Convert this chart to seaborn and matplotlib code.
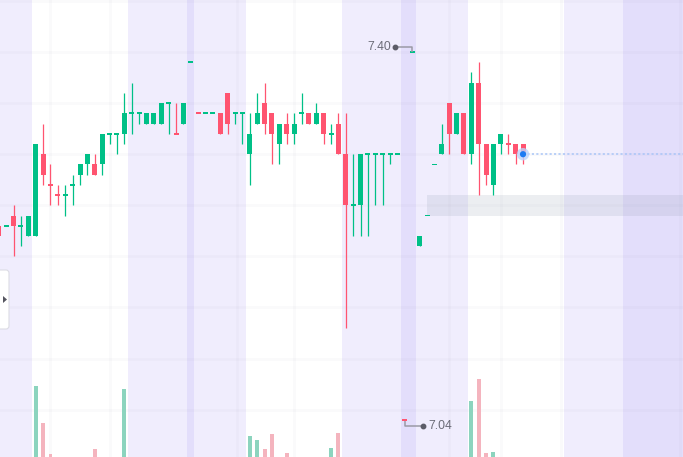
import matplotlib
matplotlib.use("Agg")
import numpy as np
import pandas as pd
import matplotlib.pyplot as plt
import seaborn as sns
from matplotlib.patches import FancyBboxPatch, Polygon
from matplotlib.transforms import IdentityTransform

# One-minute bars (price in yuan)
opens = [7.23, 7.23, 7.24, 7.23, 7.22, 7.22, 7.30, 7.27, 7.26, 7.26,
         7.27, 7.28, 7.29, 7.29, 7.29, 7.32, 7.32, 7.32, 7.34, 7.34,
         7.33, 7.33, 7.33, 7.35, 7.32, 7.33, 7.39, 7.34, 7.34, 7.34,
         7.34, 7.36, 7.34, 7.34, 7.30, 7.33, 7.35, 7.34, 7.31, 7.33,
         7.32, 7.34, 7.34, 7.33, 7.34, 7.32, 7.33, 7.30, 7.25, 7.25,
         7.30, 7.30, 7.30, 7.30, 7.30, 7.04, 7.40, 7.21, 7.24, 7.29,
         7.30, 7.35, 7.32, 7.34, 7.30, 7.37, 7.31, 7.27, 7.31, 7.31,
         7.31, 7.31]
highs = [7.23, 7.23, 7.25, 7.24, 7.24, 7.31, 7.33, 7.29, 7.27, 7.27,
         7.28, 7.29, 7.30, 7.30, 7.32, 7.32, 7.32, 7.36, 7.37, 7.34,
         7.34, 7.34, 7.35, 7.35, 7.35, 7.35, 7.39, 7.34, 7.34, 7.34,
         7.34, 7.36, 7.34, 7.34, 7.34, 7.36, 7.37, 7.34, 7.33, 7.34,
         7.34, 7.36, 7.34, 7.35, 7.34, 7.33, 7.34, 7.34, 7.30, 7.30,
         7.30, 7.30, 7.30, 7.30, 7.30, 7.04, 7.40, 7.22, 7.24, 7.29,
         7.33, 7.35, 7.34, 7.34, 7.38, 7.39, 7.31, 7.31, 7.32, 7.32,
         7.31, 7.31]
lows = [7.22, 7.23, 7.20, 7.21, 7.22, 7.22, 7.27, 7.25, 7.25, 7.24,
        7.25, 7.27, 7.28, 7.28, 7.28, 7.31, 7.30, 7.31, 7.32, 7.33,
        7.33, 7.33, 7.33, 7.32, 7.32, 7.33, 7.39, 7.34, 7.34, 7.34,
        7.32, 7.32, 7.33, 7.31, 7.27, 7.33, 7.32, 7.29, 7.29, 7.31,
        7.31, 7.33, 7.33, 7.33, 7.31, 7.31, 7.30, 7.13, 7.22, 7.22,
        7.22, 7.25, 7.25, 7.29, 7.30, 7.04, 7.40, 7.21, 7.24, 7.29,
        7.30, 7.30, 7.32, 7.30, 7.29, 7.26, 7.27, 7.26, 7.30, 7.30,
        7.29, 7.29]
closes = [7.22, 7.23, 7.23, 7.23, 7.24, 7.31, 7.28, 7.27, 7.26, 7.26,
          7.27, 7.29, 7.30, 7.28, 7.32, 7.32, 7.32, 7.34, 7.34, 7.34,
          7.34, 7.34, 7.35, 7.35, 7.32, 7.35, 7.39, 7.34, 7.34, 7.34,
          7.32, 7.33, 7.34, 7.34, 7.32, 7.34, 7.33, 7.32, 7.33, 7.32,
          7.33, 7.34, 7.33, 7.34, 7.32, 7.32, 7.30, 7.25, 7.25, 7.30,
          7.30, 7.30, 7.30, 7.30, 7.30, 7.04, 7.40, 7.22, 7.24, 7.29,
          7.31, 7.32, 7.34, 7.30, 7.37, 7.31, 7.28, 7.31, 7.32, 7.31,
          7.30, 7.30]
volumes = [60, 40, 90, 50, 70, 840, 470, 160, 80, 60,
           50, 70, 90, 210, 110, 40, 50, 810, 120, 60,
           50, 40, 70, 30, 50, 60, 20, 30, 20, 20,
           80, 100, 40, 60, 340, 300, 210, 360, 90, 170,
           100, 60, 50, 70, 90, 220, 370, 120, 80, 110,
           60, 50, 40, 30, 20, 10, 10, 40, 30, 60,
           90, 110, 80, 100, 690, 910, 170, 180, 70, 50,
           60, 40]

high_label = "7.40"
low_label = "7.04"

UP, DOWN = "#00c087", "#ff5470"
UP_VOL, DOWN_VOL = "#80e0c3", "#ffa9b7"
BAND, BAND_DARK = "#f0edfd", "#e3defb"

n = len(closes)
idx = np.arange(n)
o, h, l, c = map(np.asarray, (opens, highs, lows, closes))

# direction: body colour, flat bars follow the previous close
prev = np.r_[c[0], c[:-1]]
up = np.where(c > o, True, np.where(c < o, False, c >= prev))
df = pd.DataFrame({"i": idx, "vol": volumes,
                   "dir": np.where(up, "up", "down")})

sns.set_theme(style="white")
plt.rcParams["font.family"] = ["Liberation Sans", "DejaVu Sans"]

W, H = 683, 457
fig = plt.figure(figsize=(W / 100, H / 100), dpi=100)
ax = fig.add_axes([0, 0, 1, 1])
XMIN, XMAX = 0.16, 0.16 + W / 7.383
YMIN, YMAX = 7.0037, 7.4509
ax.set_xlim(XMIN, XMAX)
ax.set_ylim(YMIN, YMAX)
ax.axis("off")

# session shading
for a, b, col in [(XMIN, 4.5, BAND), (17.5, 33.5, BAND), (25.5, 26.5, BAND_DARK),
                  (46.5, 63.5, BAND), (54.5, 56.5, BAND_DARK),
                  (76.5, XMAX, BAND), (84.5, XMAX, BAND_DARK)]:
    ax.axvspan(a, b, color=col, lw=0, zorder=0)

# faint grid
grid_col = (0.45, 0.45, 0.6, 0.035)
for p in np.arange(7.05, 7.451, 0.05):
    ax.axhline(p, color=grid_col, lw=2.0, zorder=0.5)
for gx in [7, 15, 32.2, 40, 61, 68, 76.2, 92.2]:
    ax.axvline(gx, color=grid_col, lw=2.0, zorder=0.5)

# highlighted price range
ax.fill_between([58, XMAX], 7.24, 7.26, color=(0.55, 0.6, 0.68), alpha=0.16,
                lw=0, zorder=1)

# candles
cols = np.where(up, UP, DOWN)
ax.vlines(idx, l, h, colors=cols, lw=0.9, zorder=3)
body_lo = np.minimum(o, c)
body_h = np.abs(c - o)
flat = body_h < 1e-9
body_lo = np.where(flat, c - 0.0009, body_lo)
body_h = np.where(flat, 0.0018, body_h)
ax.bar(idx, body_h, bottom=body_lo, width=0.68, color=cols, lw=0, zorder=3.1)

# volume pane (base sits just below the lower edge)
vax = ax.twinx()
sns.barplot(data=df, x="i", y="vol", hue="dir", native_scale=True,
            palette={"up": UP_VOL, "down": DOWN_VOL}, width=0.54,
            errorbar=None, legend=False, linewidth=0, ax=vax)
vax.set_ylim(130, 4700)
vax.set_xlim(XMIN, XMAX)
vax.axis("off")

# last price line and marker
last_i, last_p = idx[-1], c[-1]
ax.plot([last_i, XMAX], [last_p, last_p], color="#a9c5f7", lw=1.1,
        ls=(0, (1.4, 1.5)), zorder=4)
pt = pd.DataFrame({"i": [last_i], "p": [last_p]})
sns.scatterplot(data=pt, x="i", y="p", s=80, color="#bcd4fb", alpha=0.8,
                edgecolor="none", ax=ax, zorder=5)
sns.scatterplot(data=pt, x="i", y="p", s=20, color="#1d7bf2",
                edgecolor="none", ax=ax, zorder=6)
ax.set_xlim(XMIN, XMAX)
ax.set_ylim(YMIN, YMAX)


def shift(x, y, dx, dy):
    d = ax.transData.transform((x, y))
    return ax.transData.inverted().transform((d[0] + dx, d[1] + dy))


line_kw = dict(color="#9a9aa6", lw=1.1, zorder=6, solid_capstyle="butt")
txt_kw = dict(color="#6c6c78", fontsize=8.7, va="center", zorder=7)

# session high
hi_i = int(np.argmax(h))
p0 = (hi_i, h[hi_i])
corner = shift(*p0, 0, 5.5)
dot = shift(*p0, -17.5, 5.5)
ax.plot([dot[0], corner[0], p0[0]], [dot[1], corner[1], p0[1]], **line_kw)
ax.plot(*dot, "o", ms=3.2, color="#5c5c68", zorder=7)
tpos = shift(*p0, -21.5, 5.5)
ax.text(tpos[0], tpos[1], high_label, ha="right", **txt_kw)

# session low
lo_i = int(np.argmin(l))
p1 = (lo_i, l[lo_i])
start = shift(*p1, 0, -1.5)
corner = shift(*p1, 0, -6.5)
dot = shift(*p1, 18.5, -6.5)
ax.plot([start[0], corner[0], dot[0]], [start[1], corner[1], dot[1]], **line_kw)
ax.plot(*dot, "o", ms=3.2, color="#5c5c68", zorder=7)
tpos = shift(*p1, 23.5, -6.5)
ax.text(tpos[0], tpos[1], low_label, ha="left", **txt_kw)

# collapsed side panel handle
fig.add_artist(FancyBboxPatch((-6, 128), 15, 59,
                              boxstyle="round,pad=0,rounding_size=3",
                              fc="white", ec="#dcdce4", lw=0.8,
                              transform=IdentityTransform()))
fig.add_artist(Polygon([(3, 154), (3, 161), (7, 157.5)], closed=True,
                       fc="#55555f", ec="none", transform=IdentityTransform()))

fig.savefig("out.png", dpi=100)
